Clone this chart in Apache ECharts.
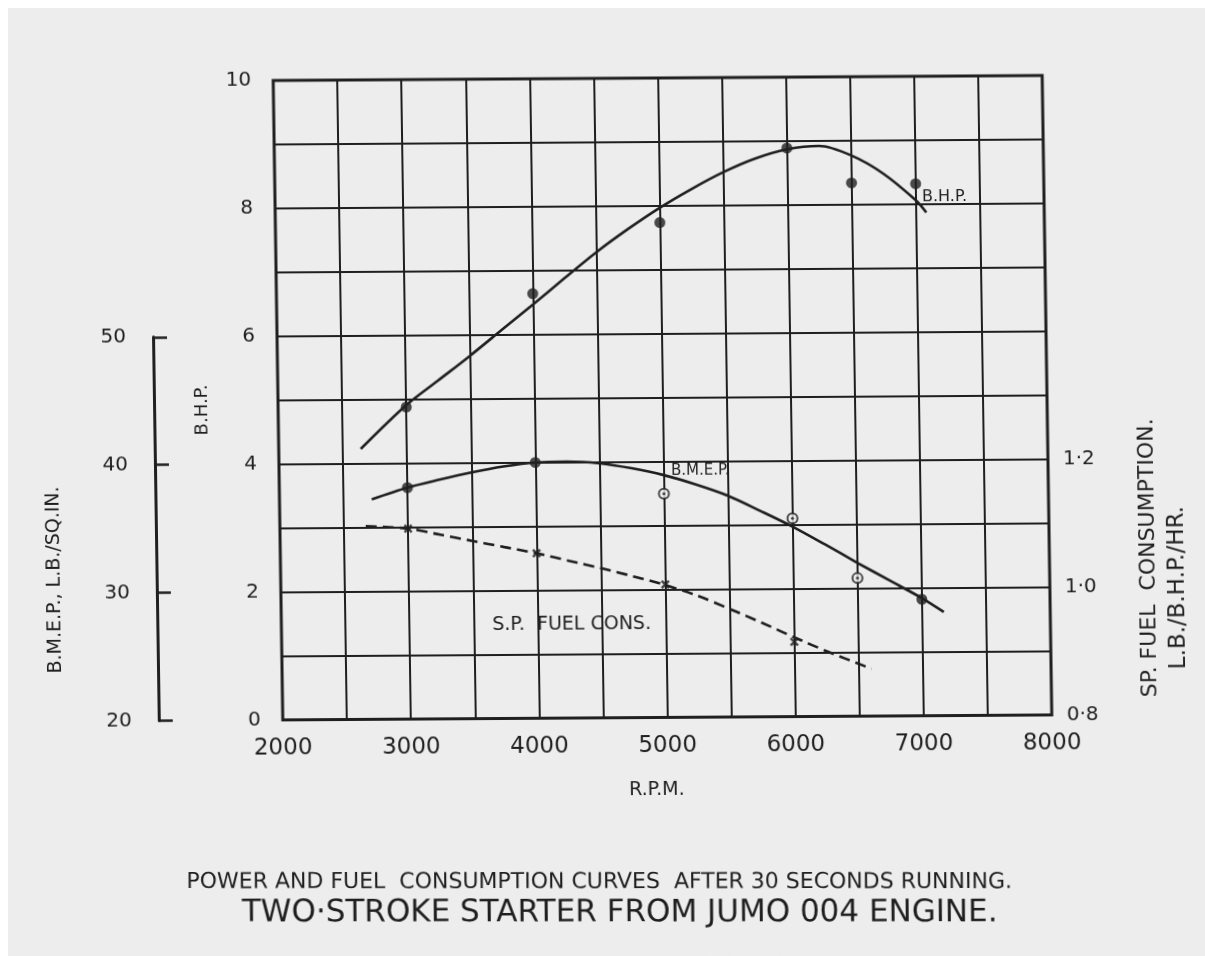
<!DOCTYPE html>
<html><head><meta charset="utf-8">
<script src="https://cdn.jsdelivr.net/npm/echarts@6/dist/echarts.min.js"></script>
<style>
html,body{margin:0;padding:0;background:#ededed;overflow:hidden}
#c{position:absolute;left:0;top:0;width:1205px;height:956px;
   transform-origin:663px 398px;transform:matrix(1,-0.0065,0.015,1,0,0)}
#st{position:absolute;left:0;top:0;width:1205px;height:8px;background:#fff}
#sl{position:absolute;left:0;top:0;width:8px;height:956px;background:#fff}
</style>
</head><body><div id="c"></div><div id="st"></div><div id="sl"></div><script>
// ---- data ----
const rpmTicks = [2000, 3000, 4000, 5000, 6000, 7000, 8000];
const bhpTicks = [0, 2, 4, 6, 8, 10];
const bmepTicks = [20, 30, 40, 50];
const sfcTicks = [0.8, 1.0, 1.2];

// B.H.P. (left inner axis)
const bhpPointsRpm = [3000, 4000, 5000, 6000, 6500, 7000];
const bhpPoints = [4.88, 6.64, 7.74, 8.89, 8.34, 8.32];
const bhpCurveRpm = [2640, 3000, 3250, 3500, 3750, 4000, 4250, 4500, 4750, 5000, 5250, 5500, 5750, 6000, 6250, 6500, 6750, 7000, 7080];
const bhpCurve = [4.23, 4.91, 5.29, 5.67, 6.07, 6.47, 6.88, 7.28, 7.64, 7.97, 8.26, 8.52, 8.73, 8.87, 8.92, 8.77, 8.48, 8.06, 7.87];

// B.M.E.P., lb/sq.in (left outer axis)
const bmepFilledRpm = [3000, 4000, 7000];
const bmepFilled = [38.1, 40.0, 29.1];
const bmepOpenRpm = [5000, 6000, 6500];
const bmepOpen = [37.5, 35.5, 30.8];
const bmepCurveRpm = [2720, 3000, 3250, 3500, 3750, 4000, 4250, 4500, 4750, 5000, 5250, 5500, 5750, 6000, 6250, 6500, 6750, 7000, 7170];
const bmepCurve = [37.2, 38.1, 38.7, 39.25, 39.7, 40.0, 40.05, 39.9, 39.5, 38.95, 38.2, 37.3, 36.1, 34.85, 33.45, 32.0, 30.6, 29.2, 28.1];

// Sp. fuel consumption, lb/BHP/hr (right axis)
const sfcPointsRpm = [3000, 4000, 5000, 6000];
const sfcPoints = [1.098, 1.058, 1.008, 0.917];
const sfcCurveRpm = [2670, 3000, 3250, 3500, 3750, 4000, 4250, 4500, 4750, 5000, 5250, 5500, 5750, 6000, 6250, 6600];
const sfcCurve = [1.102, 1.098, 1.088, 1.078, 1.068, 1.058, 1.046, 1.034, 1.021, 1.007, 0.990, 0.969, 0.947, 0.924, 0.902, 0.874];

const titleLine1 = 'POWER AND FUEL  CONSUMPTION CURVES  AFTER 30 SECONDS RUNNING.';
const titleLine2 = 'TWO·STROKE STARTER FROM JUMO 004 ENGINE.';

// ---- build ----
const zip = (xs, ys) => xs.map((x, i) => [x, ys[i]]);
const INK = '#1f1f1f';
const FONT = '"DejaVu Sans", sans-serif';
const chart = echarts.init(document.getElementById('c'), null, {renderer: 'canvas'});

const PLOT_BOTTOM = 238.5, PLOT_TOP = 78, UNIT = (956 - PLOT_BOTTOM - PLOT_TOP) / 10;
const gridBase = {left: 278, right: 158, bottom: PLOT_BOTTOM};
const xCommon = {type: 'value', min: 2000, max: 8000, interval: 500};
const crossPath = 'path://M2,0 L5,3 L8,0 L10,2 L7,5 L10,8 L8,10 L5,7 L2,10 L0,8 L3,5 L0,2 Z';
const LEVEL = -0.0065; // keeps the printed titles level on the page

const option = {
  backgroundColor: '#ededed',
  animation: false,
  textStyle: {fontFamily: FONT, color: INK},
  grid: [
    Object.assign({top: PLOT_TOP, show: true, borderColor: INK, borderWidth: 3, backgroundColor: 'transparent'}, gridBase),
    Object.assign({top: 956 - PLOT_BOTTOM - 6 * UNIT}, gridBase),
    Object.assign({top: 956 - PLOT_BOTTOM - 4 * UNIT}, gridBase)
  ],
  xAxis: [
    Object.assign({}, xCommon, {
      gridIndex: 0,
      axisLine: {show: false}, axisTick: {show: false},
      axisLabel: {
        margin: 17, fontSize: 23, color: INK, fontFamily: FONT,
        formatter: v => rpmTicks.includes(v) ? String(v) : ''
      },
      splitLine: {show: true, lineStyle: {color: INK, width: 2}}
    }),
    Object.assign({}, xCommon, {gridIndex: 1, show: false}),
    Object.assign({}, xCommon, {gridIndex: 2, show: false})
  ],
  yAxis: [
    {
      type: 'value', gridIndex: 0, min: 0, max: 10, interval: 1,
      axisLine: {show: false}, axisTick: {show: false},
      axisLabel: {
        margin: 22, fontSize: 20, color: INK, fontFamily: FONT,
        formatter: v => bhpTicks.includes(v) ? String(v) : ''
      },
      splitLine: {show: true, lineStyle: {color: INK, width: 2}}
    },
    {
      type: 'value', gridIndex: 1, position: 'left', offset: 124,
      min: 20, max: 50, interval: 10,
      axisLine: {show: true, lineStyle: {color: INK, width: 3}},
      axisTick: {show: true, inside: true, length: 14, lineStyle: {color: INK, width: 2.5}},
      axisLabel: {
        margin: 27, fontSize: 20, color: INK, fontFamily: FONT,
        formatter: v => bmepTicks.includes(v) ? String(v) : ''
      },
      splitLine: {show: false}
    },
    {
      type: 'value', gridIndex: 2, position: 'right',
      min: 0.8, max: 1.2, interval: 0.2,
      axisLine: {show: false}, axisTick: {show: false},
      axisLabel: {
        margin: 15, fontSize: 20, color: INK, fontFamily: FONT,
        formatter: v => {
          const m = sfcTicks.find(t => Math.abs(t - v) < 1e-6);
          return m === undefined ? '' : m.toFixed(1).replace('.', '·');
        }
      },
      splitLine: {show: false}
    }
  ],
  series: [
    {
      name: 'B.H.P. curve', type: 'line', xAxisIndex: 0, yAxisIndex: 0,
      data: zip(bhpCurveRpm, bhpCurve), smooth: 0.3, showSymbol: false,
      lineStyle: {color: INK, width: 2.6}, z: 5
    },
    {
      name: 'B.H.P.', type: 'scatter', xAxisIndex: 0, yAxisIndex: 0,
      data: zip(bhpPointsRpm, bhpPoints), symbol: 'circle', symbolSize: 11,
      itemStyle: {color: INK}, z: 6
    },
    {
      name: 'B.M.E.P. curve', type: 'line', xAxisIndex: 1, yAxisIndex: 1,
      data: zip(bmepCurveRpm, bmepCurve), smooth: 0.3, showSymbol: false,
      lineStyle: {color: INK, width: 2.6}, z: 5
    },
    {
      name: 'B.M.E.P. filled', type: 'scatter', xAxisIndex: 1, yAxisIndex: 1,
      data: zip(bmepFilledRpm, bmepFilled), symbol: 'circle', symbolSize: 11,
      itemStyle: {color: INK}, z: 6
    },
    {
      name: 'B.M.E.P. open', type: 'scatter', xAxisIndex: 1, yAxisIndex: 1,
      data: zip(bmepOpenRpm, bmepOpen), symbol: 'circle', symbolSize: 10,
      itemStyle: {color: '#ededed', borderColor: INK, borderWidth: 2}, z: 6
    },
    {
      name: 'B.M.E.P. open centre', type: 'scatter', xAxisIndex: 1, yAxisIndex: 1,
      data: zip(bmepOpenRpm, bmepOpen), symbol: 'circle', symbolSize: 3,
      itemStyle: {color: INK}, z: 7
    },
    {
      name: 'S.P. fuel cons. curve', type: 'line', xAxisIndex: 2, yAxisIndex: 2,
      data: zip(sfcCurveRpm, sfcCurve), smooth: 0.3, showSymbol: false,
      lineStyle: {color: INK, width: 2.6, type: [11, 6]}, z: 5
    },
    {
      name: 'S.P. fuel cons.', type: 'scatter', xAxisIndex: 2, yAxisIndex: 2,
      data: zip(sfcPointsRpm, sfcPoints), symbol: crossPath, symbolSize: 9,
      itemStyle: {color: INK}, z: 6
    }
  ],
  graphic: [
    {type: 'text', x: 925, y: 199, style: {text: 'B.H.P.', font: '16px ' + FONT, fill: INK, textAlign: 'left', textVerticalAlign: 'middle'}},
    {type: 'text', x: 670, y: 471, style: {text: 'B.M.E.P.', font: '15px ' + FONT, fill: INK, textAlign: 'left', textVerticalAlign: 'middle'}},
    {type: 'text', x: 489, y: 624, style: {text: 'S.P.  FUEL CONS.', font: '19px ' + FONT, fill: INK, textAlign: 'left', textVerticalAlign: 'middle'}},
    {type: 'text', x: 651, y: 790, style: {text: 'R.P.M.', font: '19px ' + FONT, fill: INK, textAlign: 'center', textVerticalAlign: 'middle'}},
    {type: 'text', x: 202, y: 407, rotation: Math.PI / 2, style: {text: 'B.H.P.', font: '18px ' + FONT, fill: INK, textAlign: 'center', textVerticalAlign: 'middle'}},
    {type: 'text', x: 52, y: 576, rotation: Math.PI / 2, style: {text: 'B.M.E.P., L.B./SQ.IN.', font: '19px ' + FONT, fill: INK, textAlign: 'center', textVerticalAlign: 'middle'}},
    {type: 'text', x: 1146, y: 561, rotation: Math.PI / 2, style: {text: 'SP. FUEL  CONSUMPTION.', font: '22px ' + FONT, fill: INK, textAlign: 'center', textVerticalAlign: 'middle'}},
    {type: 'text', x: 1175, y: 591, rotation: Math.PI / 2, style: {text: 'L.B./B.H.P./HR.', font: '23px ' + FONT, fill: INK, textAlign: 'center', textVerticalAlign: 'middle'}},
    {type: 'text', x: 592, y: 882, rotation: LEVEL, style: {text: titleLine1, font: '22px ' + FONT, fill: INK, textAlign: 'center', textVerticalAlign: 'middle'}},
    {type: 'text', x: 612, y: 913, rotation: LEVEL, style: {text: titleLine2, font: '31px ' + FONT, fill: INK, textAlign: 'center', textVerticalAlign: 'middle'}}
  ]
};
chart.setOption(option);
</script></body></html>
